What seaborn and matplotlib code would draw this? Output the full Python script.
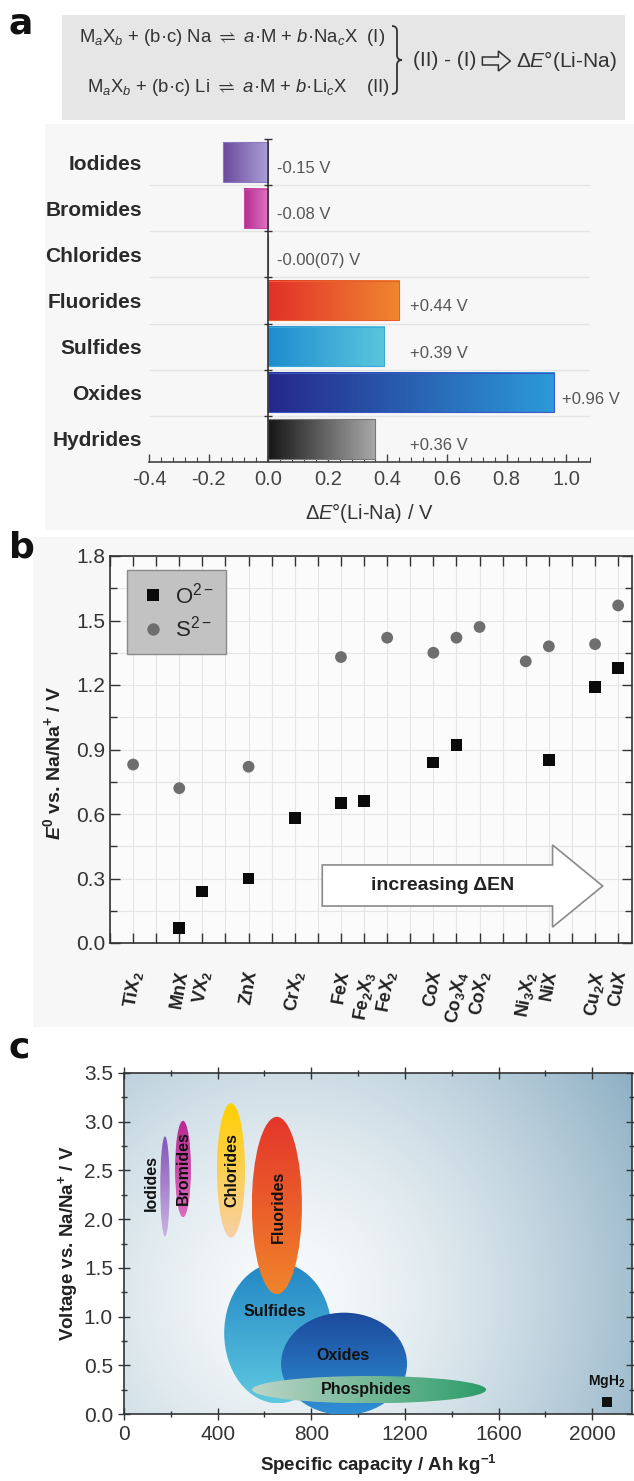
import numpy as np
import pandas as pd
import seaborn as sns
import matplotlib.pyplot as plt
from matplotlib.colors import LinearSegmentedColormap
from matplotlib.patches import Ellipse, Polygon, Rectangle, PathPatch
from matplotlib.path import Path
from matplotlib.ticker import MultipleLocator

# ---- panel a : dE(Li-Na) by anion class
classes_a = ['Iodides', 'Bromides', 'Chlorides', 'Fluorides', 'Sulfides', 'Oxides', 'Hydrides']
delta_e = [-0.15, -0.08, -0.0007, 0.44, 0.39, 0.96, 0.36]
delta_txt = ['-0.15 V', '-0.08 V', '-0.00(07) V', '+0.44 V', '+0.39 V', '+0.96 V', '+0.36 V']

# ---- panel b : conversion potentials of oxides / sulfides
compounds = ['TiX$_\\mathbf{2}$', 'MnX', 'VX$_\\mathbf{2}$', 'ZnX', 'CrX$_\\mathbf{2}$', 'FeX',
             'Fe$_\\mathbf{2}$X$_\\mathbf{3}$', 'FeX$_\\mathbf{2}$', 'CoX', 'Co$_\\mathbf{3}$X$_\\mathbf{4}$',
             'CoX$_\\mathbf{2}$', 'Ni$_\\mathbf{3}$X$_\\mathbf{2}$', 'NiX', 'Cu$_\\mathbf{2}$X', 'CuX']
slot = [1, 3, 4, 6, 8, 10, 11, 12, 14, 15, 16, 18, 19, 21, 22]
e_oxide = [np.nan, 0.07, 0.24, 0.30, 0.58, 0.65, 0.66, np.nan, 0.84, 0.92, np.nan, np.nan, 0.85, 1.19, 1.28]
e_sulfide = [0.83, 0.72, np.nan, 0.82, np.nan, 1.33, np.nan, 1.42, 1.35, 1.42, 1.47, 1.31, 1.38, 1.39, 1.57]

# ---- panel c : voltage / capacity windows
classes_c = ['Iodides', 'Bromides', 'Chlorides', 'Fluorides', 'Sulfides', 'Oxides', 'Phosphides']
cap_min = [155, 218, 397, 546, 428, 671, 547]
cap_max = [195, 286, 517, 760, 888, 1209, 1547]
volt_min = [1.82, 2.02, 1.81, 1.23, 0.11, -0.01, 0.11]
volt_max = [2.85, 3.01, 3.19, 3.05, 1.55, 1.04, 0.39]
mgh2_cap = [2062]
mgh2_volt = [0.12]

sns.set_theme(style='ticks')
plt.rcParams['font.family'] = ['Liberation Sans', 'DejaVu Sans']
plt.rcParams['axes.unicode_minus'] = False
plt.rcParams['mathtext.fontset'] = 'custom'
plt.rcParams['mathtext.rm'] = 'Liberation Sans'
plt.rcParams['mathtext.it'] = 'Liberation Sans:italic'
plt.rcParams['mathtext.bf'] = 'Liberation Sans:bold'
try:
    plt.rcParams['mathtext.bfit'] = 'Liberation Sans:italic:bold'
except KeyError:
    pass

W, H = 634, 1481


def frac(x, y):
    return x / W, 1 - y / H


def rect(l, t, r, b):
    return [l / W, 1 - b / H, (r - l) / W, (b - t) / H]


fig = plt.figure(figsize=(W / 100, H / 100), dpi=100)
renderer = fig.canvas.get_renderer()
for l, t, r, b, c in [(45, 124, 634, 530, '#f7f7f7'), (33, 537, 634, 1027, '#f7f7f7'),
                      (62, 15, 625, 120, '#e6e6e6')]:
    fig.add_artist(Rectangle(frac(l, b), (r - l) / W, (b - t) / H, transform=fig.transFigure,
                             facecolor=c, edgecolor='none', zorder=-5))

for lab, y in [('a', 33), ('b', 557), ('c', 1057)]:
    fig.text(*frac(9, y), lab, fontsize=26, fontweight='bold', family='DejaVu Sans',
             va='baseline', color='#111')

# reaction scheme in the grey box
eq1 = 'M$_a$X$_b$ + (b·c) Na $\\rightleftharpoons$ $a$·M + $b$·Na$_c$X  (I)'
eq2 = 'M$_a$X$_b$ + (b·c) Li $\\rightleftharpoons$ $a$·M + $b$·Li$_c$X    (II)'
fig.text(*frac(79, 37), eq1, fontsize=13.3, color='#333', va='center')
fig.text(*frac(87, 88), eq2, fontsize=13.3, color='#333', va='center')

bx, btop, bbot, bw = 392, 26, 94, 10
mid = (btop + bbot) / 2
q, r = bw / 2, bw / 2
pts = [(bx, btop), (bx + q, btop), (bx + q, btop + r), (bx + q, mid - r), (bx + q, mid), (bx + bw, mid),
       (bx + q, mid), (bx + q, mid + r), (bx + q, bbot - r), (bx + q, bbot), (bx, bbot)]
codes = [Path.MOVETO, Path.CURVE3, Path.CURVE3, Path.LINETO, Path.CURVE3, Path.CURVE3,
         Path.CURVE3, Path.CURVE3, Path.LINETO, Path.CURVE3, Path.CURVE3]
fig.add_artist(PathPatch(Path([frac(*p) for p in pts], codes), transform=fig.transFigure,
                         facecolor='none', edgecolor='#333', lw=1.3))

t1 = fig.text(*frac(413, 61), '(II) - (I)', fontsize=15, color='#333', va='center')
x_end = t1.get_window_extent(renderer).x1
ax0 = x_end + 6
arr = [(ax0, 57), (ax0 + 16, 57), (ax0 + 16, 51), (ax0 + 28, 61), (ax0 + 16, 71), (ax0 + 16, 65), (ax0, 65)]
fig.add_artist(Polygon([frac(*p) for p in arr], closed=True, transform=fig.transFigure,
                       facecolor='none', edgecolor='#333', lw=1.1))
fig.text(*frac(ax0 + 34, 61), 'Δ$E$°(Li-Na)', fontsize=15, color='#333', va='center')

# ================= panel a
bar_grad = [('#6b4a9c', '#ab9ed6'), ('#b52e8e', '#e072c2'), ('#777777', '#777777'),
            ('#e2302a', '#f08630'), ('#1d8ccf', '#5cc6de'), ('#25288a', '#2c9ad8'),
            ('#161616', '#a9a9a9')]
bar_edge = ['#8a78c0', '#c84aa8', '#777777', '#e8602c', '#3aaad8', '#3a58c8', '#777777']

axa = fig.add_axes(rect(149, 139, 590, 462))
axa.patch.set_alpha(0)
sns.barplot(x=delta_e, y=classes_a, orient='h', width=0.85, color='white', ax=axa)
for yy in np.arange(0.5, len(classes_a) - 1):
    axa.axhline(yy, color='#e4e4e4', lw=1, zorder=0)
for p, (c0, c1), ec in zip(list(axa.patches), bar_grad, bar_edge):
    xs = sorted([p.get_x(), p.get_x() + p.get_width()])
    y0, y1 = p.get_y(), p.get_y() + p.get_height()
    if xs[1] - xs[0] > 0.005:
        cm = LinearSegmentedColormap.from_list('bar', [c0, c1])
        axa.imshow(np.linspace(0, 1, 128)[None, :], cmap=cm, extent=(xs[0], xs[1], y1, y0),
                   aspect='auto', clip_path=p, zorder=3, interpolation='bilinear')
    p.set_facecolor('none')
    p.set_edgecolor(ec)
    p.set_linewidth(0.8)
    p.set_zorder(4)

for i, (v, t) in enumerate(zip(delta_e, delta_txt)):
    x = 0.03 if v <= 0 else max(v, 0.45) + 0.025
    axa.text(x, i + 0.14, t, fontsize=12, color='#555', va='center', ha='left')

axa.axvline(0, color='#333', lw=1.2, zorder=5)
axa.plot([0] * len(classes_a), np.arange(-0.5, len(classes_a) - 0.5), ls='none', marker='_',
         ms=6, mew=1, color='#333', zorder=5, clip_on=False)
axa.set_xlim(-0.4, 1.08)
axa.set_ylim(len(classes_a) - 0.5, -0.5)
axa.xaxis.set_major_locator(MultipleLocator(0.2))
axa.xaxis.set_minor_locator(MultipleLocator(0.04))
axa.tick_params(axis='x', which='major', direction='in', length=6, width=1, color='#444',
                labelsize=14.5, labelcolor='#444', pad=6)
axa.tick_params(axis='x', which='minor', direction='in', length=3.5, width=0.8, color='#444')
axa.tick_params(axis='y', length=0, labelsize=15, labelcolor='#2a2a2a', pad=5)
for lab in axa.get_yticklabels():
    lab.set_fontweight('bold')
sns.despine(ax=axa, left=True)
axa.spines['bottom'].set_color('#444')
axa.spines['bottom'].set_linewidth(1.2)
axa.set_ylabel('')
axa.set_xlabel('Δ$E$°(Li-Na) / V', fontsize=14.5, color='#333', va='center')
axa.xaxis.set_label_coords(0.5, -(513 - 462) / 323)

# ================= panel b
axb = fig.add_axes(rect(110, 556, 632, 943))
axb.set_facecolor('#fbfbfb')
anion = ['O$^{2-}$'] * len(slot) + ['S$^{2-}$'] * len(slot)
df_b = pd.DataFrame({'slot': slot + slot, 'E': e_oxide + e_sulfide, 'anion': anion})
sns.scatterplot(data=df_b, x='slot', y='E', hue='anion', style='anion',
                palette=['#0a0a0a', '#6e6e6e'], markers=['s', 'o'], s=72, linewidth=0,
                ax=axb, zorder=3)
old = axb.get_legend()
handles, labels = old.legend_handles, [t.get_text() for t in old.get_texts()]
old.remove()
leg = axb.legend(handles, labels, loc='upper left', bbox_to_anchor=(0.033, 0.964), borderaxespad=0,
                 frameon=True, fancybox=False, framealpha=1, facecolor='#c2c2c2', edgecolor='#8a8a8a',
                 fontsize=16, handlelength=1.2, handletextpad=0.4, labelspacing=0.35, borderpad=0.55,
                 markerscale=1.05)
leg.get_frame().set_linewidth(1)

arrow = [(9.19, 0.172), (19.16, 0.172), (19.16, 0.074), (21.33, 0.265), (19.16, 0.456),
         (19.16, 0.363), (9.19, 0.363)]
axb.add_patch(Polygon(arrow, closed=True, facecolor='white', edgecolor='#8a8a8a', lw=1.2, zorder=2))
axb.text(14.4, 0.267, 'increasing ΔEN', fontsize=14, fontweight='bold', color='#222',
         ha='center', va='center', zorder=4)

axb.set_xlim(0, 22.6)
axb.set_ylim(0, 1.8)
axb.set_xticks(slot)
axb.set_xticklabels(compounds, rotation=80, fontweight='bold', fontsize=13, color='#222')
axb.xaxis.set_minor_locator(MultipleLocator(1))
axb.yaxis.set_major_locator(MultipleLocator(0.3))
axb.yaxis.set_minor_locator(MultipleLocator(0.15))
axb.tick_params(which='both', direction='in', top=True, right=True, color='#333', width=1)
axb.tick_params(axis='x', which='both', length=7, pad=19)
axb.tick_params(axis='y', which='major', length=7, labelsize=15, labelcolor='#333')
axb.tick_params(axis='y', which='minor', length=5)
axb.grid(which='both', color='#e6e6e6', lw=0.8)
axb.set_axisbelow(True)
for s in axb.spines.values():
    s.set_color('#333')
    s.set_linewidth(1.2)
axb.set_xlabel('')
axb.set_ylabel('$\\mathbfit{E}^\\mathbf{0}$ vs. Na/Na$^\\mathbf{+}$ / V', fontsize=14,
               fontweight='bold', color='#222', va='center')
axb.yaxis.set_label_coords((53 - 110) / 522, (943 - 763) / 387)

# ================= panel c
axc = fig.add_axes(rect(124, 1073, 632, 1414))
gy, gx = np.mgrid[0:1:200j, 0:1:200j]
dist = np.sqrt(((gx - 0.32) / 1.0) ** 2 + ((gy - 0.35) / 1.5) ** 2)
bg = np.clip(dist / 0.85, 0, 1) ** 1.5
bg_cmap = LinearSegmentedColormap.from_list('bg', ['#f7fafb', '#8eb0c4'])
axc.imshow(bg, cmap=bg_cmap, extent=(0, 1, 0, 1), transform=axc.transAxes, origin='lower',
           aspect='auto', zorder=0, interpolation='bilinear')

ell_style = {
    'Iodides': ('v', '#c9b3e3', '#8456b8', 3),
    'Bromides': ('v', '#dc6cc0', '#b82a90', 3),
    'Chlorides': ('v', '#f8cfa6', '#ffd000', 3),
    'Fluorides': ('v', '#f0842a', '#e4362a', 5),
    'Sulfides': ('v', '#5fc8e0', '#2286c4', 2),
    'Oxides': ('v', '#2e90d6', '#1c4a9c', 3),
    'Phosphides': ('h', '#bcd5c6', '#2c9c6a', 4),
}
for name, x0, x1, y0, y1 in zip(classes_c, cap_min, cap_max, volt_min, volt_max):
    kind, ca, cb, z = ell_style[name]
    e = Ellipse(((x0 + x1) / 2, (y0 + y1) / 2), x1 - x0, y1 - y0, facecolor='none', edgecolor='none')
    axc.add_patch(e)
    grad = np.linspace(0, 1, 128)
    grad = grad[:, None] if kind == 'v' else grad[None, :]
    axc.imshow(grad, cmap=LinearSegmentedColormap.from_list(name, [ca, cb]), origin='lower',
               extent=(x0, x1, y0, y1), aspect='auto', clip_path=e, zorder=z, interpolation='bilinear')

label_at = {'Iodides': (118, 2.37, 90), 'Bromides': (252, 2.52, 90), 'Chlorides': (460, 2.5, 90),
            'Fluorides': (658, 2.13, 90), 'Sulfides': (645, 1.05, 0), 'Oxides': (937, 0.6, 0),
            'Phosphides': (1035, 0.25, 0)}
for name in classes_c:
    lx, ly, rot = label_at[name]
    axc.text(lx, ly, name, rotation=rot, fontsize=11.5, fontweight='bold', color='#111',
             ha='center', va='center', zorder=7)

sns.scatterplot(x=mgh2_cap, y=mgh2_volt, marker='s', color='#111', s=55, linewidth=0, ax=axc, zorder=7)
axc.text(mgh2_cap[0], mgh2_volt[0] + 0.21, 'MgH$_\\mathbf{2}$', fontsize=10, fontweight='bold',
         color='#111', ha='center', va='center')

axc.set_xlim(0, 2170)
axc.set_ylim(0, 3.5)
axc.xaxis.set_major_locator(MultipleLocator(400))
axc.xaxis.set_minor_locator(MultipleLocator(200))
axc.yaxis.set_major_locator(MultipleLocator(0.5))
axc.yaxis.set_minor_locator(MultipleLocator(0.25))
axc.tick_params(which='both', direction='inout', top=True, right=True, color='#333', width=1)
axc.tick_params(which='major', length=9, labelsize=15, labelcolor='#333')
axc.tick_params(which='minor', length=5)
for s in axc.spines.values():
    s.set_color('#333')
    s.set_linewidth(1.2)
axc.set_xlabel('Specific capacity / Ah kg$^\\mathbf{-1}$', fontsize=13.5, fontweight='bold',
               color='#222', va='center')
axc.xaxis.set_label_coords(0.5, -(1465 - 1414) / 341)
axc.set_ylabel('Voltage vs. Na/Na$^\\mathbf{+}$ / V', fontsize=13.5, fontweight='bold',
               color='#222', va='center')
axc.yaxis.set_label_coords((68 - 124) / 508, 0.5)

fig.savefig('out.png', dpi=100)
